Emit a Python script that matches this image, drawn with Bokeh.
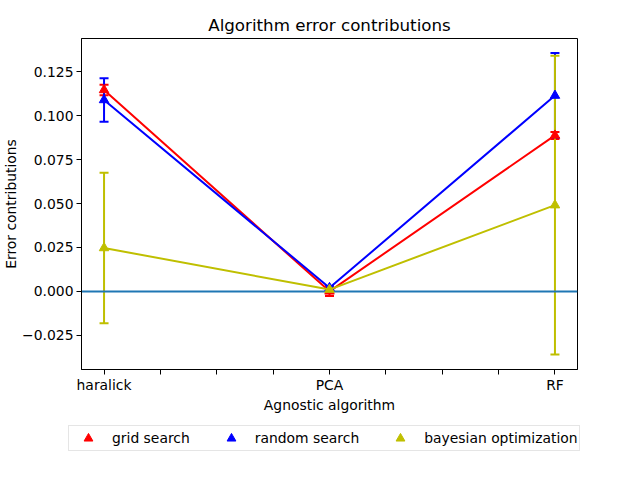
from bokeh.plotting import figure
from bokeh.models import (ColumnDataSource, Whisker, TeeHead, FixedTicker, Legend,
                          LegendItem, CustomJSTickFormatter, Range1d)
from bokeh.embed import file_html
from bokeh.resources import INLINE

# ---- data ----
categories = ["haralick", "PCA", "RF"]
x_pos = [0, 1, 2]
series_names = ["grid search", "random search", "bayesian optimization"]
series_colors = ["#ff0000", "#0000ff", "#bfbf00"]
grid_vals = [0.1147, 0.0000, 0.0888]
grid_errs = [0.0030, 0.0026, 0.0020]
random_vals = [0.1090, 0.0020, 0.1115]
random_errs = [0.0124, 0.0010, 0.0242]
bayes_vals = [0.0247, 0.0010, 0.0491]
bayes_errs = [0.0428, 0.0010, 0.0851]
x_ticks = [0, 0.25, 0.5, 0.75, 1, 1.25, 1.5, 1.75, 2]
y_ticks = [-0.025, 0.0, 0.025, 0.05, 0.075, 0.1, 0.125]
zero_line = [0.0]

FONT = "DejaVu Sans"
FS = "13.9px"

p = figure(width=640, height=415, output_backend="svg", toolbar_location=None,
           x_range=Range1d(-0.1, 2.1), y_range=Range1d(-0.0445, 0.1440),
           min_border_left=81, min_border_right=63, min_border_top=38,
           min_border_bottom=46, title="Algorithm error contributions")
p.background_fill_color = "white"
p.border_fill_color = "white"
p.outline_line_color = "black"
p.outline_line_width = 1
p.grid.visible = False

p.title.text_font = FONT
p.title.text_font_size = "16.7px"
p.title.text_font_style = "normal"
p.title.text_color = "black"
p.title.align = "center"
p.title.standoff = 8

# zero reference line
p.hspan(y=zero_line, line_color="#1f77b4", line_width=2)

all_vals = [grid_vals, random_vals, bayes_vals]
all_errs = [grid_errs, random_errs, bayes_errs]
for vals, errs, color in zip(all_vals, all_errs, series_colors):
    src = ColumnDataSource(dict(
        x=x_pos, y=vals,
        lower=[v - e for v, e in zip(vals, errs)],
        upper=[v + e for v, e in zip(vals, errs)]))
    w = Whisker(base="x", lower="lower", upper="upper", source=src,
                line_color=color, line_width=2, level="underlay",
                upper_head=TeeHead(size=9, line_color=color, line_width=2),
                lower_head=TeeHead(size=9, line_color=color, line_width=2))
    p.add_layout(w)

for vals, color in zip(all_vals, series_colors):
    src = ColumnDataSource(dict(x=x_pos, y=vals))
    p.line("x", "y", source=src, line_color=color, line_width=2)
    p.scatter("x", "y", source=src, marker="triangle", size=9.5,
              fill_color=color, line_color=color, line_width=1)

# axes
xa = p.xaxis[0]
xa.ticker = FixedTicker(ticks=x_ticks)
overrides = {}
for t in x_ticks:
    overrides[t] = categories[x_pos.index(t)] if t in x_pos else ""
xa.major_label_overrides = overrides
xa.axis_label = "Agnostic algorithm"

ya = p.yaxis[0]
ya.ticker = FixedTicker(ticks=y_ticks)
ya.formatter = CustomJSTickFormatter(
    code="return (tick < -1e-12 ? '\u2212' : '') + Math.abs(tick).toFixed(3);")
ya.axis_label = "Error contributions"

for ax in (xa, ya):
    ax.axis_line_color = "black"
    ax.axis_line_width = 1
    ax.major_tick_line_color = "black"
    ax.major_tick_line_width = 1
    ax.major_tick_out = 5
    ax.major_tick_in = 0
    ax.minor_tick_line_color = None
    ax.major_label_text_font = FONT
    ax.major_label_text_font_size = FS
    ax.major_label_text_color = "black"
    ax.axis_label_text_font = FONT
    ax.axis_label_text_font_size = FS
    ax.axis_label_text_font_style = "normal"
    ax.axis_label_text_color = "black"
xa.major_label_standoff = 2
xa.axis_label_standoff = 1
ya.major_label_standoff = 3
ya.axis_label_standoff = 0

# ---- legend strip below the chart (separate root, full-width frame) ----
lf = figure(width=640, height=64, output_backend="svg", toolbar_location=None,
            x_range=Range1d(100, 101), y_range=Range1d(100, 101),
            min_border=0, x_axis_location=None, y_axis_location=None)
lf.outline_line_color = None
lf.grid.visible = False
lf.background_fill_color = "white"
lf.border_fill_color = "white"
keys = []
for vals, color in zip(all_vals, series_colors):
    src = ColumnDataSource(dict(x=x_pos, y=vals))
    keys.append(lf.scatter("x", "y", source=src, marker="triangle", size=9.5,
                           fill_color=color, line_color=color, line_width=1))

legend = Legend(
    items=[LegendItem(label=n, renderers=[r]) for n, r in zip(series_names, keys)],
    orientation="horizontal", location=(68, 28),
    label_text_font=FONT, label_text_font_size=FS, label_text_color="black",
    glyph_width=36, glyph_height=22, label_height=22, label_standoff=6,
    spacing=23, padding=1, margin=0,
    border_line_color="#cccccc", border_line_width=1,
    background_fill_color="white", background_fill_alpha=0.8)
lf.add_layout(legend)

open("out.html", "w").write(file_html([p, lf], INLINE))
